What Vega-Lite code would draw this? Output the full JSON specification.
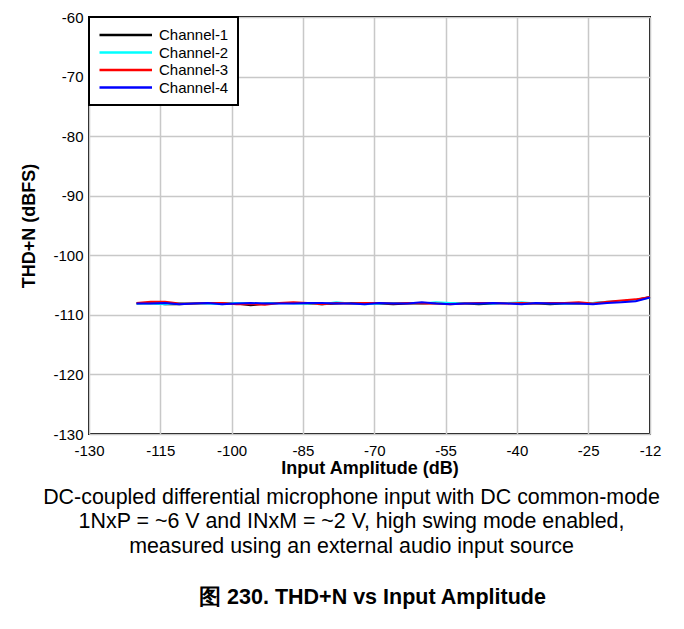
{
  "$schema": "https://vega.github.io/schema/vega-lite/v6.json",
  "autosize": "none",
  "width": 561,
  "height": 417,
  "padding": {"left": 89, "top": 17, "right": 34, "bottom": 195},
  "background": "white",
  "config": {
    "font": "Liberation Sans",
    "view": {"stroke": "black", "strokeWidth": 2},
    "legend": {"strokeWidth": 2}
  },
  "title": {
    "text": "图 230. THD+N vs Input Amplitude",
    "orient": "bottom",
    "anchor": "middle",
    "frame": "group",
    "dx": 3,
    "offset": 31,
    "fontSize": 21.5,
    "fontWeight": "bold",
    "font": "Liberation Sans",
    "color": "black"
  },
  "data": {
    "values": [
      {"a": -120, "c1": -108.1, "c2": -108.1, "c3": -108.0, "c4": -108.1},
      {"a": -117, "c1": -108.0, "c2": -108.1, "c3": -107.8, "c4": -108.1},
      {"a": -114, "c1": -108.2, "c2": -108.2, "c3": -107.8, "c4": -108.0},
      {"a": -111, "c1": -108.2, "c2": -108.0, "c3": -108.1, "c4": -108.2},
      {"a": -108, "c1": -108.1, "c2": -108.1, "c3": -108.1, "c4": -108.1},
      {"a": -105, "c1": -108.0, "c2": -108.1, "c3": -108.0, "c4": -108.0},
      {"a": -102, "c1": -108.1, "c2": -108.2, "c3": -108.0, "c4": -108.2},
      {"a": -99, "c1": -108.1, "c2": -108.0, "c3": -108.2, "c4": -108.1},
      {"a": -96, "c1": -108.4, "c2": -108.1, "c3": -108.2, "c4": -108.0},
      {"a": -93, "c1": -108.1, "c2": -108.1, "c3": -108.3, "c4": -108.1},
      {"a": -90, "c1": -108.0, "c2": -108.0, "c3": -108.0, "c4": -108.1},
      {"a": -87, "c1": -108.0, "c2": -108.1, "c3": -107.9, "c4": -108.1},
      {"a": -84, "c1": -108.1, "c2": -108.1, "c3": -108.0, "c4": -108.0},
      {"a": -81, "c1": -108.2, "c2": -108.2, "c3": -108.2, "c4": -108.0},
      {"a": -78, "c1": -108.1, "c2": -107.9, "c3": -108.0, "c4": -108.1},
      {"a": -75, "c1": -108.0, "c2": -108.1, "c3": -108.1, "c4": -108.1},
      {"a": -72, "c1": -108.1, "c2": -108.2, "c3": -108.0, "c4": -108.2},
      {"a": -69, "c1": -108.1, "c2": -108.1, "c3": -108.0, "c4": -108.0},
      {"a": -66, "c1": -108.2, "c2": -108.0, "c3": -108.1, "c4": -108.1},
      {"a": -63, "c1": -108.1, "c2": -108.0, "c3": -108.0, "c4": -108.1},
      {"a": -60, "c1": -108.1, "c2": -108.1, "c3": -108.1, "c4": -107.9},
      {"a": -57, "c1": -108.0, "c2": -107.9, "c3": -108.1, "c4": -108.1},
      {"a": -54, "c1": -108.1, "c2": -108.0, "c3": -108.2, "c4": -108.2},
      {"a": -51, "c1": -108.1, "c2": -108.1, "c3": -108.1, "c4": -108.1},
      {"a": -48, "c1": -108.2, "c2": -108.0, "c3": -108.0, "c4": -108.1},
      {"a": -45, "c1": -108.1, "c2": -108.1, "c3": -108.0, "c4": -108.0},
      {"a": -42, "c1": -108.0, "c2": -108.0, "c3": -108.1, "c4": -108.1},
      {"a": -39, "c1": -108.1, "c2": -107.9, "c3": -108.0, "c4": -108.2},
      {"a": -36, "c1": -108.1, "c2": -108.1, "c3": -108.1, "c4": -108.0},
      {"a": -33, "c1": -108.2, "c2": -108.0, "c3": -108.0, "c4": -108.1},
      {"a": -30, "c1": -108.1, "c2": -108.1, "c3": -108.0, "c4": -108.1},
      {"a": -27, "c1": -108.1, "c2": -108.0, "c3": -107.9, "c4": -108.1},
      {"a": -24, "c1": -108.0, "c2": -108.0, "c3": -108.1, "c4": -108.2},
      {"a": -21, "c1": -107.9, "c2": -107.8, "c3": -107.8, "c4": -108.0},
      {"a": -18, "c1": -107.7, "c2": -107.7, "c3": -107.6, "c4": -107.9},
      {"a": -15, "c1": -107.5, "c2": -107.6, "c3": -107.4, "c4": -107.7},
      {"a": -12, "c1": -107.0, "c2": -107.1, "c3": -107.0, "c4": -107.1}
    ]
  },
  "transform": [
    {"fold": ["c1", "c2", "c3", "c4"], "as": ["key", "v"]},
    {"lookup": "key", "from": {"data": {"values": [
      {"key": "c1", "ch": "Channel-1"},
      {"key": "c2", "ch": "Channel-2"},
      {"key": "c3", "ch": "Channel-3"},
      {"key": "c4", "ch": "Channel-4"}
    ]}, "key": "key", "fields": ["ch"]}}
  ],
  "resolve": {"axis": {"x": "independent"}},
  "encoding": {
    "y": {
      "field": "v",
      "type": "quantitative",
      "scale": {"domain": [-130, -60], "nice": false, "zero": false},
      "axis": {
        "values": [-130, -120, -110, -100, -90, -80, -70, -60],
        "labelExpr": "'' + datum.value",
        "title": "THD+N (dBFS)",
        "titleFontSize": 18,
        "titleFontWeight": "bold",
        "titleColor": "black",
        "titlePadding": 14,
        "labelFontSize": 15,
        "labelColor": "black",
        "labelPadding": 6,
        "ticks": false,
        "domain": false,
        "grid": true,
        "gridColor": "#c8c8c8",
        "gridWidth": 1.5
      }
    },
    "color": {
      "field": "ch",
      "type": "nominal",
      "scale": {
        "domain": ["Channel-1", "Channel-2", "Channel-3", "Channel-4"],
        "range": ["#000000", "#00ffff", "#ff0000", "#0000ff"]
      },
      "legend": {
        "title": null,
        "orient": "top-left",
        "offset": 0,
        "symbolType": "M-1,0H6",
        "symbolSize": 225,
        "symbolStrokeWidth": 2.5,
        "labelFontSize": 15,
        "labelColor": "black",
        "labelOffset": 43,
        "strokeColor": "black",
        "fillColor": "white",
        "padding": 9,
        "rowPadding": 0.5
      }
    }
  },
  "layer": [
    {
      "transform": [{"filter": {"field": "key", "oneOf": ["c1", "c2"]}}],
      "mark": {"type": "line", "strokeWidth": 2},
      "encoding": {
        "x": {
          "field": "a",
          "type": "quantitative",
          "scale": {"domain": [-130, -12], "nice": false, "zero": false},
          "axis": {
            "orient": "bottom",
            "values": [-130, -115, -100, -85, -70, -55, -40, -25, -12],
            "labelExpr": "'' + datum.value",
            "title": "Input Amplitude (dB)",
            "titleFontSize": 18,
            "titleFontWeight": "bold",
            "titleColor": "black",
            "titlePadding": 1,
            "labelFontSize": 15,
            "labelColor": "black",
            "labelPadding": 9,
            "labelFlush": false,
            "ticks": false,
            "domain": false,
            "grid": true,
            "gridColor": "#c8c8c8",
            "gridWidth": 1.5
          }
        }
      }
    },
    {
      "transform": [{"filter": {"field": "key", "oneOf": ["c3", "c4"]}}],
      "mark": {"type": "line", "strokeWidth": 2},
      "encoding": {
        "x": {
          "field": "a",
          "type": "quantitative",
          "scale": {"domain": [-130, -12], "nice": false, "zero": false},
          "axis": {
            "orient": "bottom",
            "offset": 0,
            "title": [
              "DC-coupled differential microphone input with DC common-mode",
              "1NxP = ~6 V and INxM = ~2 V, high swing mode enabled,",
              "measured using an external audio input source"
            ],
            "titleFontSize": 21.4,
            "titleFontWeight": "normal",
            "titleColor": "black",
            "titleLineHeight": 24.5,
            "titleX": 262,
            "titleY": 52,
            "titleAnchor": "middle",
            "titleAlign": "center",
            "titleBaseline": "top",
            "labels": false,
            "ticks": false,
            "domain": false,
            "grid": false
          }
        }
      }
    }
  ]
}
